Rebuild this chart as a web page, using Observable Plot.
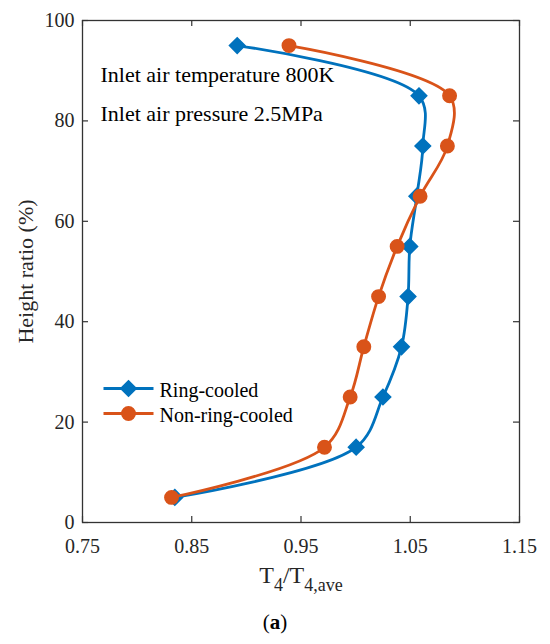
<!DOCTYPE html>
<html><head><meta charset="utf-8">
<script src="https://cdn.jsdelivr.net/npm/d3@7"></script>
<script src="https://cdn.jsdelivr.net/npm/@observablehq/plot@0.6"></script>
<style>
body{margin:0;background:#fff;}
#caption{width:550px;text-align:center;font-family:'Liberation Serif';font-size:21px;line-height:44px;color:#000;}
</style></head><body>
<div id="chart"></div>
<div id="caption">(<b>a</b>)</div>
<script>
// ---- data ----
const heights = [5, 15, 25, 35, 45, 55, 65, 75, 85, 95];
const ringCooled = [0.8345, 1.0005, 1.025, 1.042, 1.048, 1.0496, 1.056, 1.0615, 1.058, 0.8916];
const nonRingCooled = [0.8315, 0.9715, 0.995, 1.0075, 1.021, 1.038, 1.059, 1.084, 1.086, 0.939];
const seriesNames = ["Ring-cooled", "Non-ring-cooled"];
const seriesColors = ["#0072BD", "#D95319"];
const xTicks = [0.75, 0.85, 0.95, 1.05, 1.15];
const yTicks = [0, 20, 40, 60, 80, 100];
const annotations = ["Inlet air temperature 800K", "Inlet air pressure 2.5MPa"];
const xLabel = "T4/T4,ave";
const yLabel = "Height ratio (%)";

const ring = heights.map((h, i) => ({x: ringCooled[i], y: h}));
const nonRing = heights.map((h, i) => ({x: nonRingCooled[i], y: h}));

// ---- layout ----
const serif = "Liberation Serif";
const W = 550, H = 600, mL = 82, mR = 31, mT = 20, mB = 78;
const fw = W - mL - mR, fh = H - mT - mB, tl = 6;
const axisColor = "#333";
const lineSym = {draw(ctx, size) { const r = Math.sqrt(size / Math.PI); ctx.moveTo(-r, 0); ctx.lineTo(r, 0); }};

const plot = Plot.plot({
  width: W, height: H,
  marginLeft: mL, marginRight: mR, marginTop: mT, marginBottom: mB,
  style: {fontFamily: serif, fontSize: "20px", color: "#262626", background: "white", overflow: "visible"},
  x: {domain: [0.75, 1.15]},
  y: {domain: [0, 100]},
  marks: [
    Plot.axisX({ticks: xTicks, tickSize: 0, tickPadding: 16, tickFormat: d3.format(".2f"), fontSize: 20, label: null}),
    Plot.axisY({ticks: yTicks, tickSize: 0, tickPadding: 8, fontSize: 20, label: null}),
    Plot.tickX(xTicks, {x: d => d, insetTop: fh - tl, stroke: axisColor, strokeWidth: 1.2}),
    Plot.tickX(xTicks, {x: d => d, insetBottom: fh - tl, stroke: axisColor, strokeWidth: 1.2}),
    Plot.tickY(yTicks, {y: d => d, insetRight: fw - tl, stroke: axisColor, strokeWidth: 1.2}),
    Plot.tickY(yTicks, {y: d => d, insetLeft: fw - tl, stroke: axisColor, strokeWidth: 1.2}),
    Plot.frame({stroke: axisColor, strokeWidth: 1.3}),
    // series
    Plot.line(ring, {x: "x", y: "y", curve: "catmull-rom", stroke: seriesColors[0], strokeWidth: 2.8}),
    Plot.dot(ring, {x: "x", y: "y", symbol: "diamond2", r: 7, fill: seriesColors[0], stroke: seriesColors[0]}),
    Plot.line(nonRing, {x: "x", y: "y", curve: "catmull-rom", stroke: seriesColors[1], strokeWidth: 2.8}),
    Plot.dot(nonRing, {x: "x", y: "y", symbol: "circle", r: 6.7, fill: seriesColors[1], stroke: seriesColors[1]}),
    // annotations
    ...annotations.map((t, i) => Plot.text([t], {frameAnchor: "top-left", dx: 18, dy: 61 + 39 * i, lineAnchor: "bottom", textAnchor: "start", fontSize: 22, fill: "#000"})),
    // legend
    ...seriesNames.flatMap((name, i) => [
      Plot.dot([name], {frameAnchor: "top-left", dx: 46, dy: 368 + 25 * i, symbol: lineSym, r: 25, stroke: seriesColors[i], strokeWidth: 2.8, fill: "none"}),
      Plot.dot([name], {frameAnchor: "top-left", dx: 46, dy: 368 + 25 * i, symbol: i === 0 ? "diamond2" : "circle", r: i === 0 ? 7 : 6.7, fill: seriesColors[i], stroke: seriesColors[i]}),
      Plot.text([name], {frameAnchor: "top-left", dx: 77, dy: 370 + 25 * i, lineAnchor: "middle", textAnchor: "start", fontSize: 20, fill: "#000"})
    ]),
    // axis titles
    Plot.text([yLabel], {frameAnchor: "left", dx: -57, rotate: -90, textAnchor: "middle", lineAnchor: "middle", fontSize: 22, fill: "#262626"}),
    Plot.text([xLabel], {frameAnchor: "bottom", dy: 60, textAnchor: "middle", lineAnchor: "bottom", fontSize: 24, fill: "#262626"})
  ]
});

// subscripts in x title
d3.select(plot).selectAll("text").filter(function() { return this.textContent === xLabel; }).each(function() {
  const t = d3.select(this);
  t.text(null);
  t.append("tspan").text("T");
  t.append("tspan").attr("dy", 8).attr("font-size", "18px").text("4");
  t.append("tspan").attr("dy", -8).text("/T");
  t.append("tspan").attr("dy", 8).attr("font-size", "18px").text("4,ave");
});
plot.querySelectorAll("text").forEach(el => { el.style.fontFamily = serif; });

document.getElementById("chart").appendChild(plot);
</script>
</body></html>
